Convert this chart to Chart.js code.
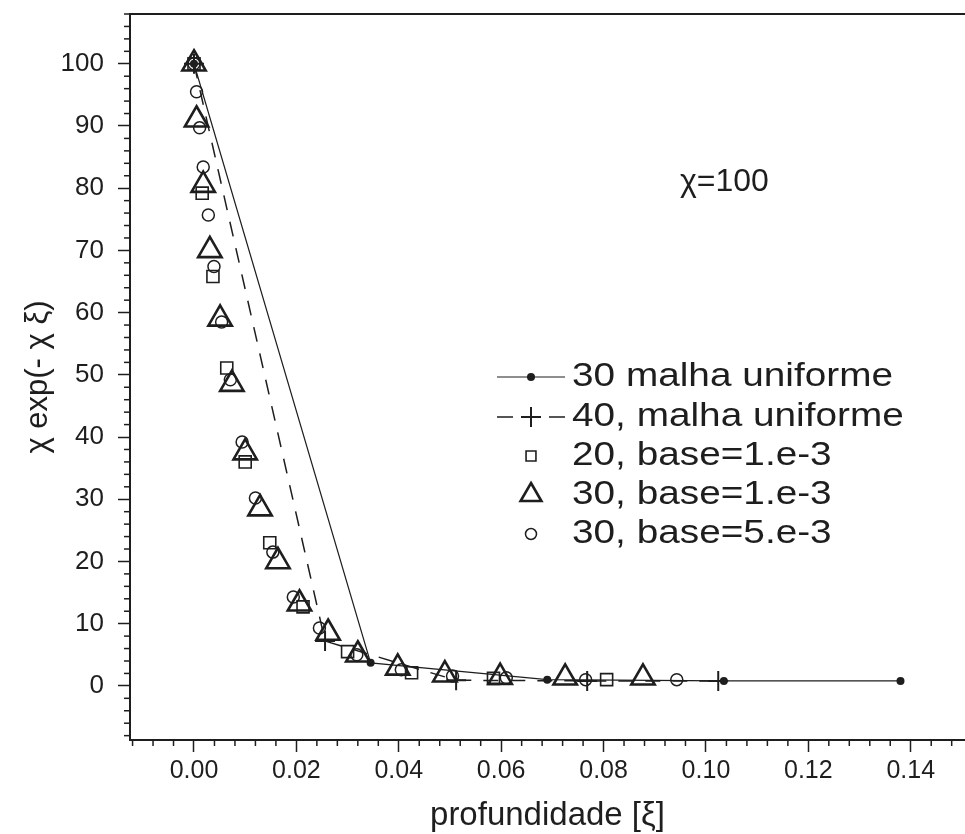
<!DOCTYPE html>
<html><head><meta charset="utf-8">
<script src="https://cdn.jsdelivr.net/npm/chart.js@4.4.0/dist/chart.umd.min.js"></script>
<style>html,body{margin:0;padding:0;background:#fff;overflow:hidden}#wrap{width:965px;height:834px;position:relative}</style>
</head><body><div id="wrap"><canvas id="c" width="965" height="834"></canvas></div>
<script>
// ---- data ----
const unif30X = [0, 0.0345, 0.069, 0.1035, 0.138];
const unif30Y = [100, 3.7, 1.0, 0.8, 0.8];
const unif40X = [0, 0.0256, 0.0512, 0.0768, 0.1024];
const unif40Y = [100, 7.2, 0.9, 0.8, 0.8];
const sq20X = [0, 0.0016, 0.0037, 0.0064, 0.0100, 0.0148, 0.0213, 0.0300, 0.0425, 0.0585, 0.0806];
const sq20Y = [100, 79.2, 65.8, 51.1, 36.0, 23.0, 12.7, 5.5, 2.1, 1.2, 1.0];
const tri30X = [0, 0.0005, 0.0018, 0.0031, 0.0051, 0.0074, 0.0100, 0.0129, 0.0164, 0.0206, 0.0262, 0.0320, 0.0398, 0.0490, 0.0598, 0.0725, 0.0877];
const tri30Y = [100, 91.0, 80.5, 70.0, 59.0, 48.5, 37.5, 28.5, 20.0, 13.2, 8.5, 5.0, 2.9, 1.8, 1.4, 1.3, 1.3];
const circ30X = [0, 0.0005, 0.0011, 0.0018, 0.0028, 0.0039, 0.0054, 0.0071, 0.0094, 0.0120, 0.0154, 0.0194, 0.0245, 0.0318, 0.0405, 0.0505, 0.0610, 0.0765, 0.0943];
const circ30Y = [100, 95.5, 89.7, 83.4, 75.7, 67.4, 58.5, 49.2, 39.2, 30.2, 21.5, 14.3, 9.3, 5.0, 2.6, 1.6, 1.3, 1.0, 1.0];
const seriesLabels = ['30 malha uniforme', '40, malha uniforme', '20, base=1.e-3', '30, base=1.e-3', '30, base=5.e-3'];
const xTickVals = [0, 0.02, 0.04, 0.06, 0.08, 0.10, 0.12, 0.14];
const yTickVals = [0, 10, 20, 30, 40, 50, 60, 70, 80, 90, 100];
const xTitle = 'profundidade [ξ]';
const yTitle = 'χ exp(- χ ξ)';
const noteText = 'χ=100';

const INK = '#1e1e1e';
const FONT = "'Liberation Sans', Arial, Helvetica, sans-serif";
const pts = (xs, ys) => xs.map((x, i) => ({x: x, y: ys[i]}));

const datasets = [
  {label: seriesLabels[0], data: pts(unif30X, unif30Y), showLine: true, borderColor: INK, borderWidth: 1.2,
   pointStyle: 'circle', pointRadius: 4, pointBackgroundColor: INK, pointBorderColor: INK, pointBorderWidth: 0},
  {label: seriesLabels[1], data: pts(unif40X, unif40Y), showLine: true, borderColor: INK, borderWidth: 1.5, borderDash: [15, 12],
   pointStyle: 'cross', pointRadius: 10, pointBorderColor: INK, pointBorderWidth: 2},
  {label: seriesLabels[2], data: pts(sq20X, sq20Y), showLine: false,
   pointStyle: 'rect', pointRadius: 8.5, pointBackgroundColor: 'rgba(0,0,0,0)', pointBorderColor: INK, pointBorderWidth: 1.6},
  {label: seriesLabels[3], data: pts(tri30X, tri30Y), showLine: false,
   pointStyle: 'triangle', pointRadius: 13.5, pointBackgroundColor: 'rgba(0,0,0,0)', pointBorderColor: INK, pointBorderWidth: 2.6},
  {label: seriesLabels[4], data: pts(circ30X, circ30Y), showLine: false,
   pointStyle: 'circle', pointRadius: 6, pointBackgroundColor: 'rgba(0,0,0,0)', pointBorderColor: INK, pointBorderWidth: 1.5}
];

const decor = {
  id: 'decor',
  afterDraw(chart) {
    const ctx = chart.ctx, a = chart.chartArea;
    const xs = chart.scales.x, ys = chart.scales.y;
    ctx.save();
    ctx.strokeStyle = INK; ctx.fillStyle = INK;
    ctx.lineWidth = 2;
    ctx.beginPath(); ctx.moveTo(a.left, a.top); ctx.lineTo(a.right, a.top); ctx.stroke();
    ctx.lineWidth = 1.5;
    for (let k = -3; k <= 38; k++) {
      if (k % 5 === 0) continue;
      const px = xs.getPixelForValue(k * 0.004);
      if (px < a.left || px > a.right) continue;
      ctx.beginPath(); ctx.moveTo(px, a.bottom); ctx.lineTo(px, a.bottom + 6); ctx.stroke();
    }
    for (let k = -4; k <= 54; k++) {
      if (k % 5 === 0) continue;
      const py = ys.getPixelForValue(k * 2);
      if (py < a.top || py > a.bottom) continue;
      ctx.beginPath(); ctx.moveTo(a.left - 6, py); ctx.lineTo(a.left, py); ctx.stroke();
    }
    ctx.textBaseline = 'middle'; ctx.textAlign = 'left';
    ctx.font = '32px ' + FONT;
    ctx.fillText(noteText, 680, 182);
    const rowsY = [377, 417, 456, 495, 534];
    const sx = 531, tx = 572;
    rowsY.forEach((y, i) => {
      const ds = chart.data.datasets[i];
      ctx.strokeStyle = INK; ctx.fillStyle = INK;
      if (i === 0) {
        ctx.lineWidth = 1.2;
        ctx.beginPath(); ctx.moveTo(497, y); ctx.lineTo(565, y); ctx.stroke();
        ctx.beginPath(); ctx.arc(sx, y, 4, 0, Math.PI * 2); ctx.fill();
      } else if (i === 1) {
        ctx.lineWidth = 1.5;
        ctx.beginPath(); ctx.moveTo(497, y); ctx.lineTo(513, y); ctx.moveTo(549, y); ctx.lineTo(565, y); ctx.stroke();
        ctx.lineWidth = 2;
        Chart.helpers.drawPoint(ctx, {pointStyle: 'cross', radius: 10, rotation: 0, borderWidth: 2}, sx, y);
      } else {
        ctx.lineWidth = ds.pointBorderWidth;
        ctx.fillStyle = 'rgba(0,0,0,0)';
        const r = i === 2 ? 7 : (i === 3 ? 12 : 5.5);
        Chart.helpers.drawPoint(ctx, {pointStyle: ds.pointStyle, radius: r, rotation: 0, borderWidth: ds.pointBorderWidth}, sx, y);
      }
      ctx.fillStyle = INK;
      ctx.font = '34px ' + FONT;
      ctx.save();
      ctx.translate(tx, y);
      ctx.scale(1.14, 1);
      ctx.fillText(ds.label, 0, 0);
      ctx.restore();
    });
    ctx.restore();
  }
};

new Chart(document.getElementById('c'), {
  type: 'scatter',
  data: {datasets: datasets},
  plugins: [decor],
  options: {
    responsive: false, animation: false, devicePixelRatio: 1,
    layout: {autoPadding: false, padding: {top: 14, right: 0, left: 0, bottom: 0}},
    plugins: {legend: {display: false}, tooltip: {enabled: false}},
    scales: {
      x: {
        type: 'linear', min: -0.0125, max: 0.1506,
        afterBuildTicks: s => { s.ticks = xTickVals.map(v => ({value: v})); },
        afterFit: s => { s.height = 94; s.paddingLeft = 0; s.paddingRight = 0; },
        ticks: {callback: v => Number(v).toFixed(2), color: INK, font: {family: FONT, size: 25}, padding: 4, maxRotation: 0, autoSkip: false},
        grid: {display: true, drawOnChartArea: false, drawTicks: true, tickLength: 12, tickWidth: 1.5, tickColor: INK},
        border: {display: true, color: INK, width: 2},
        title: {display: true, text: xTitle, color: INK, font: {family: FONT, size: 33}, padding: {top: 4, bottom: -2}}
      },
      y: {
        type: 'linear', min: -8.7, max: 108,
        afterBuildTicks: s => { s.ticks = yTickVals.map(v => ({value: v})); },
        afterFit: s => { s.width = 130; s.paddingTop = 0; s.paddingBottom = 0; },
        ticks: {color: INK, font: {family: FONT, size: 26}, padding: 14, autoSkip: false},
        grid: {display: true, drawOnChartArea: false, drawTicks: true, tickLength: 12, tickWidth: 1.5, tickColor: INK},
        border: {display: true, color: INK, width: 2},
        title: {display: true, text: yTitle, color: INK, font: {family: FONT, size: 31}, padding: {top: 20, bottom: 0}}
      }
    }
  }
});
</script></body></html>
